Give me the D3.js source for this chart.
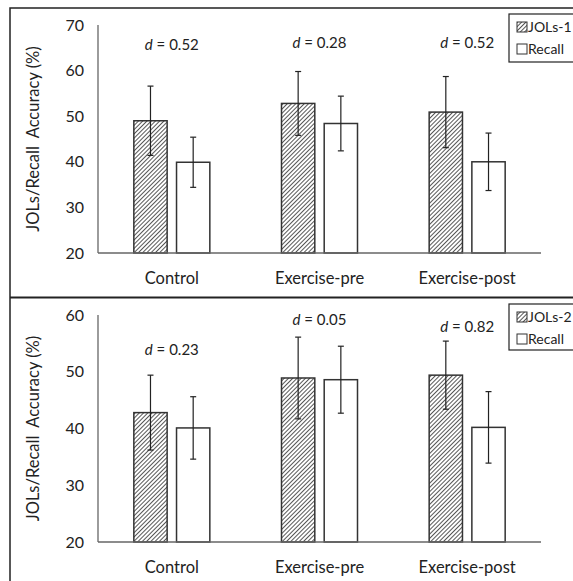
<!DOCTYPE html>
<html>
<head>
<meta charset="utf-8">
<script src="https://cdn.jsdelivr.net/npm/d3@7"></script>
<style>
  body { margin: 0; background: #fff; }
  svg { display: block; font-family: Lato, "Open Sans", sans-serif; }
</style>
</head>
<body>
<svg id="chart" width="573" height="581"></svg>
<script>
var groups = ["Control", "Exercise-pre", "Exercise-post"];

// top panel (JOLs-1)
var jol1 = [49.0, 52.8, 50.9],
    jol1Err = [7.6, 7.0, 7.8],
    recall1 = [39.9, 48.4, 40.0],
    recall1Err = [5.5, 6.0, 6.3],
    d1 = ["0.52", "0.28", "0.52"];

// bottom panel (JOLs-2)
var jol2 = [42.8, 48.9, 49.4],
    jol2Err = [6.6, 7.2, 6.0],
    recall2 = [40.1, 48.6, 40.2],
    recall2Err = [5.5, 5.9, 6.3],
    d2 = ["0.23", "0.05", "0.82"];

var svg = d3.select("#chart");

var defs = svg.append("defs");
var pat = defs.append("pattern")
    .attr("id", "hatch")
    .attr("patternUnits", "userSpaceOnUse")
    .attr("width", 3).attr("height", 3)
    .attr("patternTransform", "rotate(45)");
pat.append("rect").attr("width", 3).attr("height", 3).attr("fill", "#fff");
pat.append("line").attr("x1", 0).attr("y1", 0).attr("x2", 0).attr("y2", 3)
    .attr("stroke", "#444").attr("stroke-width", 1.8);

// panel borders
svg.append("path")
    .attr("d", "M10,581 L10,8 L573,8")
    .attr("fill", "none").attr("stroke", "#222").attr("stroke-width", 1.5);
svg.append("line")
    .attr("x1", 10).attr("x2", 573).attr("y1", 297.5).attr("y2", 297.5)
    .attr("stroke", "#222").attr("stroke-width", 2);

function panel(opt) {
  var g = svg.append("g");
  var x0 = d3.scaleBand().domain(groups).range([98, 541]);
  var x1 = d3.scaleBand().domain(["jol", "recall"])
      .range([0, 76]).paddingInner(0.22);
  var y = d3.scaleLinear().domain(opt.domain).range([opt.bottom, opt.top]);

  // y tick labels
  g.selectAll(".ytick").data(y.ticks(opt.nticks)).enter().append("text")
    .attr("x", 84).attr("y", function(d){ return y(d); })
    .attr("dy", "0.35em").attr("text-anchor", "end")
    .attr("font-size", 16).attr("fill", "#222")
    .text(function(d){ return d; });

  var rows = groups.map(function(gname, i) {
    return [
      {g: gname, k: "jol", v: opt.jol[i], e: opt.jolErr[i]},
      {g: gname, k: "recall", v: opt.recall[i], e: opt.recallErr[i]}
    ];
  });
  var flat = [].concat.apply([], rows);

  function bx(d) { return x0(d.g) + (x0.bandwidth() - 76) / 2 + x1(d.k); }

  g.selectAll(".bar").data(flat).enter().append("rect")
    .attr("x", bx)
    .attr("y", function(d){ return y(d.v); })
    .attr("width", x1.bandwidth())
    .attr("height", function(d){ return y(opt.domain[0]) - y(d.v); })
    .attr("fill", function(d){ return d.k == "jol" ? "url(#hatch)" : "#fff"; })
    .attr("stroke", "#333").attr("stroke-width", 1.5);

  // error bars
  var eb = g.selectAll(".err").data(flat).enter().append("g")
    .attr("stroke", "#222").attr("stroke-width", 1.2);
  eb.append("line")
    .attr("x1", function(d){ return bx(d) + x1.bandwidth() / 2; })
    .attr("x2", function(d){ return bx(d) + x1.bandwidth() / 2; })
    .attr("y1", function(d){ return y(d.v + d.e); })
    .attr("y2", function(d){ return y(d.v - d.e); });
  [1, -1].forEach(function(s) {
    eb.append("line")
      .attr("x1", function(d){ return bx(d) + x1.bandwidth() / 2 - 3; })
      .attr("x2", function(d){ return bx(d) + x1.bandwidth() / 2 + 3; })
      .attr("y1", function(d){ return y(d.v + s * d.e); })
      .attr("y2", function(d){ return y(d.v + s * d.e); });
  });

  // axes lines
  g.append("line").attr("x1", 98).attr("x2", 98)
    .attr("y1", opt.top).attr("y2", opt.bottom)
    .attr("stroke", "#666").attr("stroke-width", 1.3);
  g.append("line").attr("x1", 98).attr("x2", 541)
    .attr("y1", opt.bottom).attr("y2", opt.bottom)
    .attr("stroke", "#666").attr("stroke-width", 1.3);

  // category labels
  g.selectAll(".xlab").data(groups).enter().append("text")
    .attr("x", function(d){ return x0(d) + x0.bandwidth() / 2; })
    .attr("y", opt.bottom + 25).attr("dy", "0.35em")
    .attr("text-anchor", "middle").attr("font-size", 16.5).attr("fill", "#222")
    .text(function(d){ return d; });

  // effect sizes
  var dl = g.selectAll(".dlab").data(opt.d).enter().append("text")
    .attr("x", function(d, i){ return x0(groups[i]) + x0.bandwidth() / 2; })
    .attr("y", function(d, i){ return opt.dy[i]; }).attr("dy", "0.35em")
    .attr("text-anchor", "middle").attr("font-size", 15).attr("fill", "#222");
  dl.append("tspan").attr("font-style", "italic").text("d");
  dl.append("tspan").text(function(d){ return " = " + d; });

  // y title
  g.append("text")
    .attr("transform", "translate(33," + ((opt.top + opt.bottom) / 2) + ") rotate(-90)")
    .attr("dy", "0.35em")
    .attr("text-anchor", "middle").attr("font-size", 16.5).attr("fill", "#222")
    .attr("xml:space", "preserve")
    .text("JOLs/Recall  Accuracy (%)");

  // legend
  var lg = g.append("g");
  lg.append("rect").attr("x", 509).attr("y", opt.legY)
    .attr("width", 70).attr("height", opt.legH)
    .attr("fill", "#fff").attr("stroke", "#222").attr("stroke-width", 1.2);
  [[opt.legName, "url(#hatch)"], ["Recall", "#fff"]].forEach(function(it, i) {
    var cy = opt.legY + 13 + i * 22;
    lg.append("rect").attr("x", 517).attr("y", cy - 5)
      .attr("width", 10).attr("height", 10)
      .attr("fill", it[1]).attr("stroke", "#333").attr("stroke-width", 1);
    lg.append("text").attr("x", 528).attr("y", cy).attr("dy", "0.35em")
      .attr("font-size", 14).attr("fill", "#222").text(it[0]);
  });
}

panel({
  domain: [20, 70], nticks: 5, top: 25, bottom: 253,
  jol: jol1, jolErr: jol1Err, recall: recall1, recallErr: recall1Err,
  d: d1, dy: [45, 43, 43], legName: "JOLs-1", legY: 14, legH: 48
});

panel({
  domain: [20, 60], nticks: 4, top: 315, bottom: 542,
  jol: jol2, jolErr: jol2Err, recall: recall2, recallErr: recall2Err,
  d: d2, dy: [350, 320, 327], legName: "JOLs-2", legY: 304, legH: 46
});
</script>
</body>
</html>
